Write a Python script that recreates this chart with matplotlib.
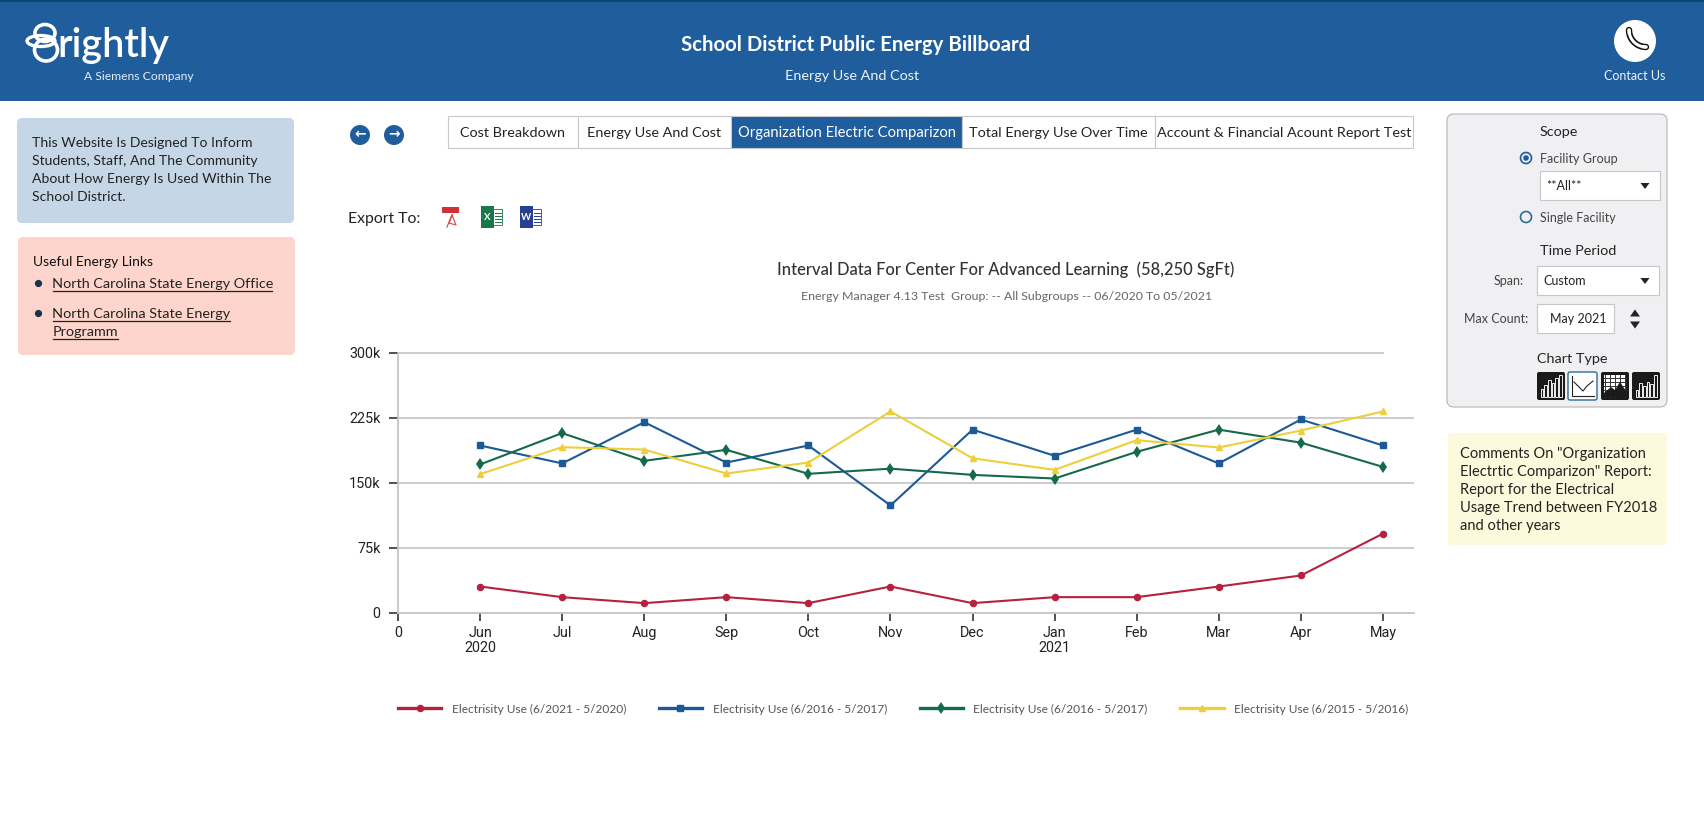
import numpy as np
import matplotlib
matplotlib.use("Agg")
import matplotlib.pyplot as plt
from matplotlib.patches import Circle, Ellipse, FancyBboxPatch, Polygon, Rectangle

plt.rcParams['font.family'] = ['Lato', 'DejaVu Sans']

# chart data
months = ['0', 'Jun\n2020', 'Jul', 'Aug', 'Sep', 'Oct', 'Nov', 'Dec', 'Jan\n2021', 'Feb', 'Mar', 'Apr', 'May']
y_ticks = [0, 75, 150, 225, 300]
y_labels = ['0', '75k', '150k', '225k', '300k']
use_2021 = [30, 17.7, 10.8, 17.7, 10.8, 30, 10.8, 17.7, 17.7, 30, 42.7, 91]
use_2016_blue = [192.7, 172, 219.6, 173, 192.7, 123.5, 211, 180.8, 211, 172, 222.7, 192.7]
use_2016_green = [170.8, 207, 175, 187.7, 160, 166, 158.8, 154.6, 185.4, 211, 196, 168]
use_2015 = [159.6, 190.8, 188, 160.4, 173, 232, 178, 164.6, 198.8, 190.4, 210, 232]
series_labels = ['Electrisity Use (6/2021 - 5/2020)', 'Electrisity Use (6/2016 - 5/2017)',
                 'Electrisity Use (6/2016 - 5/2017)', 'Electrisity Use (6/2015 - 5/2016)']

# page text
tabs = ['Cost Breakdown', 'Energy Use And Cost', 'Organization Electric Comparizon',
        'Total Energy Use Over Time', 'Account & Financial Acount Report Test']
tab_sizes = [10.4, 10.4, 10.6, 10.4, 10.4]
tab_edges = [448, 578, 731, 962, 1155, 1413]
intro_lines = ['This Website Is Designed To Inform', 'Students, Staff, And The Community',
               'About How Energy Is Used Within The', 'School District.']
comment_lines = ['Comments On "Organization', 'Electrtic Comparizon" Report:', 'Report for the Electrical',
                 'Usage Trend between FY2018', 'and other years']

BLUE = '#1f5d9c'
W, H = 1704, 832

fig = plt.figure(figsize=(W / 100, H / 100), dpi=100, facecolor='white')

# page layer, in pixels
ui = fig.add_axes([0, 0, 1, 1])
ui.set_xlim(0, W)
ui.set_ylim(H, 0)
ui.axis('off')


def txt(x, y, s, size=10, color='#222222', ha='left', **kw):
    return ui.text(x, y + 1, s, fontsize=size, color=color, ha=ha, va='center', **kw)


def box(x0, y0, x1, y1, fc, ec='none', rad=0, lw=1, **kw):
    if rad:
        p = FancyBboxPatch((x0, y0), x1 - x0, y1 - y0, boxstyle='round,pad=0,rounding_size=%d' % rad,
                           fc=fc, ec=ec, lw=lw, **kw)
    else:
        p = Rectangle((x0, y0), x1 - x0, y1 - y0, fc=fc, ec=ec, lw=lw, **kw)
    ui.add_patch(p)
    return p


def triangle(x, y, up=False, w=7, h=6):
    d = -h if up else h
    ui.add_patch(Polygon([(x - w, y - d / 2), (x + w, y - d / 2), (x, y + d / 2)], fc='#222222', ec='none'))


# header
box(0, 0, W, 101, BLUE)
box(0, 0, W, 1.5, '#0f466f')
ui.add_patch(Ellipse((45, 33), 20, 17, fc='none', ec='white', lw=2.6))
ui.add_patch(Ellipse((46, 50), 23, 22, fc='none', ec='white', lw=2.6))
ui.add_patch(Ellipse((41, 41), 28, 11, fc='none', ec='white', lw=2.4))
txt(57, 44, 'rightly', 28.5, 'white', weight='semibold')
txt(84, 75, 'A Siemens Company', 8.7, '#e4ecf4')
txt(856, 44, 'School District Public Energy Billboard', 14.7, 'white', ha='center', weight='bold')
txt(852, 75, 'Energy Use And Cost', 10.4, '#eef3f8', ha='center')
ui.add_patch(Circle((1635, 41), 21, fc='white', ec='none'))
t = np.linspace(0, np.pi / 2, 24)
phone_x = 1646 - 17 * np.cos(t)
phone_y = 30 + 17 * np.sin(t)
ui.plot(phone_x, phone_y, color='#111111', lw=4.6, solid_capstyle='round')
ui.plot(phone_x[4:-4], phone_y[4:-4], color='white', lw=2.2, solid_capstyle='round')
ui.plot(phone_x[:4], phone_y[:4], color='white', lw=2.6, solid_capstyle='round')
ui.plot(phone_x[-4:], phone_y[-4:], color='white', lw=2.6, solid_capstyle='round')
txt(1635, 75, 'Contact Us', 9, '#eef3f8', ha='center')

# left boxes
box(17, 118, 294, 223, '#c5d7e6', rad=5)
for i, line in enumerate(intro_lines):
    txt(32, 142 + 18 * i, line, 10.1)
box(18, 237, 295, 355, '#fdd5cc', rad=5)
txt(33, 261, 'Useful Energy Links', 10, '#111111')
ui.plot([38, 38], [283, 313], 'o', color='#1c3350', ms=4.2, ls='none')
link_rows = [('North Carolina State Energy Office', 283, 272), ('North Carolina State Energy', 313, 230),
             ('Programm', 331, 118)]
for line, y, x_end in link_rows:
    txt(52.5, y, line, 10.35, '#222222')
    ui.plot([52.5, x_end], [y + 8, y + 8], color='#222222', lw=0.9)

# arrows
for cx, s in ((360, '\u2190'), (394, '\u2192')):
    ui.add_patch(Circle((cx, 135), 10, fc=BLUE, ec='none'))
    ui.text(cx, 134, s, fontsize=10, color='white', ha='center', va='center', weight='bold', family='DejaVu Sans')

# tabs
for i, tab in enumerate(tabs):
    active = i == 2
    box(tab_edges[i], 116, tab_edges[i + 1], 148, BLUE if active else 'white', ec='#c8c8cc', lw=0.8)
    txt((tab_edges[i] + tab_edges[i + 1]) / 2, 132, tab, tab_sizes[i], 'white' if active else '#222222', ha='center')

# export icons
txt(348, 218, 'Export To:', 11.3, '#222222')
box(442, 207, 459, 213, '#d32f3a')
ui.plot([447, 452, 456, 449, 452], [227, 215, 225, 223, 215], color='#d9534f', lw=0.9)
for x0, c, letter in ((481, '#17794a', 'X'), (520, '#27408f', 'W')):
    box(x0 + 8, 209, x0 + 21, 225, 'white', ec=c, lw=0.6)
    for yy in (213, 216, 219, 222):
        ui.plot([x0 + 14, x0 + 20], [yy, yy], color=c, lw=0.7)
    box(x0, 206, x0 + 13, 228, c)
    txt(x0 + 6.5, 216, letter, 7, 'white', ha='center', weight='bold')

# chart titles
txt(1006, 269, 'Interval Data For Center For Advanced Learning  (58,250 SgFt)', 11.9, '#333333', ha='center', weight='medium')
txt(1007, 296, 'Energy Manager 4.13 Test  Group: -- All Subgroups -- 06/2020 To 05/2021', 8.9, '#666666', ha='center')

# right panel
box(1447, 114, 1667, 407, '#f0f0f3', ec='#b5b5b9', rad=7, lw=0.8)
txt(1540, 131, 'Scope', 10.4)
ui.add_patch(Circle((1526, 158), 5.5, fc='none', ec=BLUE, lw=1.2))
ui.add_patch(Circle((1526, 158), 2.8, fc=BLUE, ec='none'))
txt(1540, 158, 'Facility Group', 9, '#444444')
box(1540, 171, 1660, 200, 'white', ec='#c6c6cb', lw=0.8)
txt(1546, 185, '**All**', 9)
triangle(1645, 186, w=4.5, h=6)
ui.add_patch(Circle((1526, 217), 5.5, fc='none', ec='#2e6b94', lw=1.2))
txt(1540, 217, 'Single Facility', 9, '#444444')
txt(1540, 250, 'Time Period', 10.4)
txt(1524, 280, 'Span:', 9, '#444444', ha='right')
box(1537, 266, 1659, 295, 'white', ec='#c6c6cb', lw=0.8)
txt(1543, 280, 'Custom', 9)
triangle(1645, 281, w=4.5, h=6)
txt(1528, 318, 'Max Count:', 9, '#444444', ha='right')
box(1537, 304, 1614, 333, 'white', ec='#c6c6cb', lw=0.8)
txt(1578, 318, 'May 2021', 9, ha='center')
triangle(1635, 313, up=True, w=5, h=7)
triangle(1635, 325, w=5, h=7)
txt(1537, 358, 'Chart Type', 10.4)

# chart type buttons
icon_x = [1537, 1568, 1601, 1632]
bars_a = [8, 12, 17, 14, 19, 22]
bars_b = [7, 14, 11, 15, 13, 22]
for i, x0 in enumerate(icon_x):
    if i == 1:
        box(x0, 372, x0 + 29, 400, 'white', ec='#2e6b94', rad=2)
        ui.plot([x0 + 4, x0 + 4, x0 + 26], [376, 396, 396], color='#222222', lw=0.8)
        ui.plot(x0 + np.array([6, 11, 15, 19, 25]), [382, 387, 391, 386, 381], color='#222222', lw=0.8)
        continue
    box(x0, 372, x0 + 28, 400, '#1a1a1a', rad=2)
    if i == 2:
        box(x0 + 3, 375, x0 + 25, 397, 'white')
        for k in range(5):
            ui.plot([x0 + 4 + 5 * k] * 2, [375, 397], color='#333333', lw=0.7)
            ui.plot([x0 + 3, x0 + 25], [378 + 4 * k] * 2, color='#333333', lw=0.7)
        ui.add_patch(Polygon([(x0 + 3, 397), (x0 + 3, 393), (x0 + 10, 387), (x0 + 14, 390), (x0 + 19, 382), (x0 + 25, 391),
                              (x0 + 25, 397)], fc='#1a1a1a', ec='none', zorder=4))
    else:
        for k, b in enumerate(bars_a if i == 0 else bars_b):
            ui.add_patch(Rectangle((x0 + 3.5 + 3.7 * k, 397 - b), 2.6, b, fc='none', ec='#eeeeee', lw=0.7))

# comment box
box(1448, 433, 1667, 545, '#fdf9dc', rad=3)
for i, line in enumerate(comment_lines):
    txt(1460, 453 + 18 * i, line, 10.5, '#222222')

# chart axes, pixels 398..1414 across and 352..612 down
x_left, x_right, y_top, y_zero = 398, 1414, 352.5, 612.5
ax = fig.add_axes([x_left / W, 1 - y_zero / H, (x_right - x_left) / W, (y_zero - y_top) / H])
ax.patch.set_alpha(0)
x_pos = np.arange(len(months))
ax.set_xlim(0, (x_right - x_left) / 82.08)
ax.set_ylim(0, 300)
for s in ('top', 'right'):
    ax.spines[s].set_visible(False)
for s in ('left', 'bottom'):
    ax.spines[s].set_color('#c4c4c8')
    ax.spines[s].set_linewidth(1.3)

for v in y_ticks[1:-1]:
    ax.axhline(v, color='#c8c8cc', lw=1.3, zorder=1)
ax.plot([0, 12], [300, 300], color='#c8c8cc', lw=1.3, zorder=1, clip_on=False)

ax.set_xticks(x_pos)
ax.set_xticklabels(months, family='Roboto', fontsize=10.4, color='#222222', linespacing=1.1)
ax.set_yticks(y_ticks)
ax.set_yticklabels(y_labels, family='Roboto', fontsize=10.4, color='#222222')
ax.tick_params(axis='x', length=6, width=1.1, color='#222222', pad=3.5)
ax.tick_params(axis='y', length=6.5, width=1.1, color='#222222', pad=6)

x_data = x_pos[1:]
ax.plot(x_data, use_2021, color='#b5223f', lw=1.5, marker='o', ms=4.4, label=series_labels[0], zorder=3)
ax.plot(x_data, use_2016_blue, color='#1c5a96', lw=1.5, marker='s', ms=4.2, label=series_labels[1], zorder=3)
ax.plot(x_data, use_2016_green, color='#16694a', lw=1.5, marker='d', ms=6.4, mew=0, label=series_labels[2], zorder=3)
ax.plot(x_data, use_2015, color='#eccf3a', lw=1.5, marker='^', ms=5, label=series_labels[3], zorder=3)

leg = ax.legend(loc='center left', bbox_to_anchor=(398 / W, 1 - 709 / H), bbox_transform=fig.transFigure,
                ncol=4, frameon=False, fontsize=8.55, borderpad=0, borderaxespad=0, handlelength=3.65,
                handletextpad=0.88, columnspacing=2.75, labelcolor='#555555')
for h in leg.legend_handles:
    h.set_linewidth(2.4)

fig.savefig('out.png', dpi=100)
